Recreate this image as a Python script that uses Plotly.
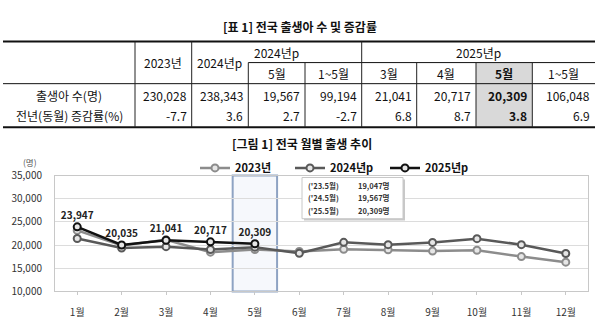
import plotly.graph_objects as go

W, H = 600, 331

# ---------------- data ----------------
months = ["1월", "2월", "3월", "4월", "5월", "6월", "7월", "8월", "9월", "10월", "11월", "12월"]
series_names = ["2023년", "2024년p", "2025년p"]
births_2023 = [23179, 19939, 21138, 18484, 19047, 18615, 19102, 18984, 18707, 18904, 17531, 16329]
births_2024 = [21442, 19362, 19669, 19049, 19567, 18242, 20601, 20098, 20590, 21398, 20095, 18189]
births_2025 = [23947, 20035, 21041, 20717, 20309]

table_title = "[표 1] 전국 출생아 수 및 증감률"
chart_title = "[그림 1] 전국 월별 출생 추이"
unit_label = "(명)"
row_labels = ["출생아 수(명)", "전년(동월) 증감률(%)"]
col_group = ["2023년", "2024년p", "2024년p", "2024년p", "2025년p", "2025년p", "2025년p", "2025년p"]
col_sub = ["", "", "5월", "1~5월", "3월", "4월", "5월", "1~5월"]
birth_counts = [230028, 238343, 19567, 99194, 21041, 20717, 20309, 106048]
change_rates = [-7.7, 3.6, 2.7, -2.7, 6.8, 8.7, 3.8, 6.9]
highlight_col = 6
highlight_month = 4  # index of 5월

FONT = "Noto Sans CJK KR"
colors = ["#8C8C8C", "#595959", "#111111"]


def X(px):
    return px / W


def Y(py):
    return 1 - py / H


fig = go.Figure()

all_series = [births_2023, births_2024, births_2025]
for i, (name, vals) in enumerate(zip(series_names, all_series)):
    is_last = i == len(all_series) - 1
    fig.add_trace(go.Scatter(
        x=months[:len(vals)], y=vals, name=name,
        mode="lines+markers+text" if is_last else "lines+markers",
        line=dict(color=colors[i], width=2.5),
        marker=dict(symbol="circle", size=7, color="#E6E6E6",
                    line=dict(color=colors[i], width=2)),
        text=[f"{v:,}" for v in vals] if is_last else None,
        textposition="top center",
        textfont=dict(family=FONT, size=10, color="#222", weight="bold"),
        cliponaxis=False,
    ))

shapes = []
annotations = []

# ---------------- table ----------------
edges = [3, 135, 191.7, 248.3, 305, 361.7, 416.7, 476, 532.3, 595]
y_top, y_mid, y_head, y_bot = 35, 57, 79, 124.5
row_y = [91, 112.5]

# highlighted cell
c0, c1 = edges[highlight_col + 1], edges[highlight_col + 2]
shapes.append(dict(type="rect", xref="paper", yref="paper", x0=X(c0), x1=X(c1),
                   y0=Y(y_bot), y1=Y(y_mid), fillcolor="#D9D9D9", line=dict(width=0), layer="below"))

# horizontal lines
for yy, x0, w in [(y_top, edges[0], 2), (y_bot, edges[0], 2), (y_head, edges[0], 1), (y_mid, edges[3], 1)]:
    shapes.append(dict(type="line", xref="paper", yref="paper", x0=X(x0), x1=X(edges[-1]),
                       y0=Y(yy), y1=Y(yy), line=dict(color="#111", width=w)))

# vertical lines
for j in range(1, len(edges) - 1):
    ci = j - 1  # column index to the right of this edge
    start_group = ci == 0 or col_group[ci] != col_group[ci - 1] or col_sub[ci] == ""
    ytop = y_top if start_group else y_mid
    shapes.append(dict(type="line", xref="paper", yref="paper", x0=X(edges[j]), x1=X(edges[j]),
                       y0=Y(ytop), y1=Y(y_bot), line=dict(color="#222", width=1)))

# header texts
done_groups = set()
for ci, (g, s) in enumerate(zip(col_group, col_sub)):
    l, r = edges[ci + 1], edges[ci + 2]
    if s == "":
        annotations.append(dict(text=g, x=X((l + r) / 2), y=Y((y_top + y_head) / 2)))
    else:
        if g not in done_groups:
            idx = [k for k, gg in enumerate(col_group) if gg == g]
            gl, gr = edges[idx[0] + 1], edges[idx[-1] + 2]
            annotations.append(dict(text=g, x=X((gl + gr) / 2), y=Y((y_top + y_mid) / 2)))
            done_groups.add(g)
        bold = ci == highlight_col
        annotations.append(dict(text=f"<b>{s}</b>" if bold else s, x=X((l + r) / 2),
                                y=Y((y_mid + y_head) / 2)))

# row labels
for ri, lab in enumerate(row_labels):
    annotations.append(dict(text=lab, x=X((edges[0] + edges[1]) / 2), y=Y(row_y[ri])))

# values
for ci in range(len(col_group)):
    r = edges[ci + 2]
    bold = ci == highlight_col
    for ri, txt in enumerate([f"{birth_counts[ci]:,}", f"{change_rates[ci]:.1f}"]):
        annotations.append(dict(text=f"<b>{txt}</b>" if bold else txt, x=X(r - 3), y=Y(row_y[ri]),
                                xanchor="right"))

for a in annotations:
    a.setdefault("xanchor", "center")
    a.update(xref="paper", yref="paper", yanchor="middle", showarrow=False,
             font=dict(family=FONT, size=12, color="#111"))

annotations.append(dict(text=f"<b>{table_title}</b>", x=X(300), y=Y(19), xref="paper", yref="paper",
                        showarrow=False, xanchor="center", yanchor="middle",
                        font=dict(family=FONT, size=12, color="#111")))

# ---------------- chart decorations ----------------
annotations.append(dict(text=f"<b>{chart_title}</b>", x=X(302), y=Y(141), xref="paper", yref="paper",
                        showarrow=False, xanchor="center", yanchor="middle",
                        font=dict(family=FONT, size=12, color="#111")))
annotations.append(dict(text=unit_label, x=X(30), y=Y(161), xref="paper", yref="paper",
                        showarrow=False, xanchor="center", yanchor="middle",
                        font=dict(family=FONT, size=8.5, color="#555")))

# highlight box around 5월
shapes.append(dict(type="rect", xref="x", yref="paper",
                   x0=highlight_month - 0.5, x1=highlight_month + 0.5,
                   y0=Y(296), y1=Y(175), fillcolor="#F6F8FC",
                   line=dict(color="#8EA3C3", width=2), layer="between"))

# info box
bx0, bx1, by0, by1 = 302, 403, 177, 220
shapes.append(dict(type="rect", xref="paper", yref="paper", x0=X(bx0 + 2), x1=X(bx1 + 2),
                   y0=Y(by1 + 2), y1=Y(by0 + 2), fillcolor="#C8C8C8", line=dict(width=0)))
shapes.append(dict(type="rect", xref="paper", yref="paper", x0=X(bx0), x1=X(bx1),
                   y0=Y(by1), y1=Y(by0), fillcolor="white", line=dict(color="#C8C8C8", width=1)))
for k, (name, vals) in enumerate(zip(series_names, all_series)):
    yy = 185 + k * 13
    annotations.append(dict(text=f"<b>('{name[2:4]}.5월)</b>", x=X(306), y=Y(yy), xref="paper", yref="paper",
                            showarrow=False, xanchor="left", yanchor="middle",
                            font=dict(family=FONT, size=7.5, color="#333")))
    annotations.append(dict(text=f"<b>{vals[highlight_month]:,}명</b>", x=X(356), y=Y(yy), xref="paper",
                            yref="paper", showarrow=False, xanchor="left", yanchor="middle",
                            font=dict(family=FONT, size=7.5, color="#333")))

fig.update_layout(
    width=W, height=H,
    margin=dict(l=0, r=0, t=0, b=0),
    paper_bgcolor="white", plot_bgcolor="white",
    font=dict(family=FONT, color="#333"),
    shapes=shapes, annotations=annotations,
    showlegend=True,
    legend=dict(orientation="h", x=X(195), xanchor="left", y=Y(167), yanchor="middle",
                entrywidth=50, entrywidthmode="pixels", bgcolor="rgba(0,0,0,0)",
                font=dict(family=FONT, size=11, color="#111", weight="bold"),
                itemwidth=30, borderwidth=0),
    xaxis=dict(domain=[X(55), X(588)], type="category", categoryorder="array", categoryarray=months,
               range=[-0.5, 11.5], showgrid=False, showline=True, linecolor="#C8C8C8", linewidth=1,
               mirror=True, ticks="outside", ticklen=3, tickcolor="#C8C8C8",
               tickfont=dict(family=FONT, size=10, color="#333"), ticklabelstandoff=9),
    yaxis=dict(domain=[Y(296), Y(175)], range=[10000, 35000], dtick=5000, tickformat=",",
               showgrid=True, gridcolor="#DCDCDC", gridwidth=1, showline=True, linecolor="#C8C8C8",
               mirror=True, ticks="", zeroline=False,
               tickfont=dict(family=FONT, size=10, color="#333"), ticklabelstandoff=10),
)

fig.write_html("out.html")
